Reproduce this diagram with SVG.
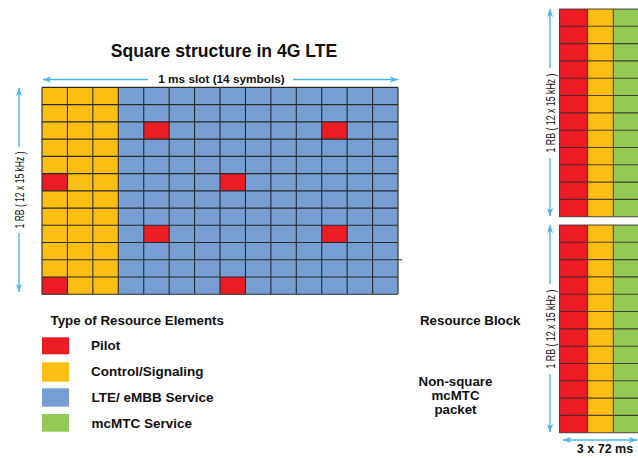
<svg xmlns="http://www.w3.org/2000/svg" width="638" height="458" viewBox="0 0 638 458">
<style>
.t{font-family:"Liberation Sans",Arial,sans-serif;font-weight:bold;fill:#111}
.rb{font-family:"Liberation Sans",Arial,sans-serif;font-size:13.5px;fill:#111}
.grid{fill:none;stroke:#2a2a2a;stroke-width:1.1}
.rgrid{fill:none;stroke:#3a2a2a;stroke-width:1.1;stroke-opacity:0.85}
.arr{stroke:#4db6e8;stroke-width:1.4;fill:none}
.red{fill:#ec1c24}.yel{fill:#fdbe13}.blu{fill:#779ed3}.grn{fill:#95c955}
</style>
<defs>
<marker id="ah" viewBox="0 0 10 8" refX="9.5" refY="4" markerWidth="9" markerHeight="7" orient="auto-start-reverse" markerUnits="userSpaceOnUse">
<path d="M0,0.5 L10,4 L0,7.5 L3,4 z" fill="#4db6e8"/>
</marker>
</defs>
<rect width="638" height="458" fill="#fff"/>

<g id="title"><text class="t" x="224" y="57" font-size="17.6" text-anchor="middle">Square structure in 4G LTE</text></g>

<g id="lte-grid">
<rect class="yel" x="42" y="87.4" width="76.3" height="206.9"/>
<rect class="blu" x="118.3" y="87.4" width="279.7" height="206.9"/>
<rect class="red" x="42" y="173.6" width="25.43" height="17.24"/>
<rect class="red" x="42" y="277.04" width="25.43" height="17.24"/>
<rect class="red" x="143.72" y="121.88" width="25.43" height="17.24"/>
<rect class="red" x="143.72" y="225.32" width="25.43" height="17.24"/>
<rect class="red" x="220.01" y="173.6" width="25.43" height="17.24"/>
<rect class="red" x="220.01" y="277.04" width="25.43" height="17.24"/>
<rect class="red" x="321.73" y="121.88" width="25.43" height="17.24"/>
<rect class="red" x="321.73" y="225.32" width="25.43" height="17.24"/>
<path class="grid" d="M42,87.4V294.3M67.43,87.4V294.3M92.86,87.4V294.3M118.29,87.4V294.3M143.72,87.4V294.3M169.15,87.4V294.3M194.58,87.4V294.3M220.01,87.4V294.3M245.44,87.4V294.3M270.87,87.4V294.3M296.3,87.4V294.3M321.73,87.4V294.3M347.16,87.4V294.3M372.59,87.4V294.3M398.02,87.4V294.3
M42,87.4H398M42,104.64H398M42,121.88H398M42,139.12H398M42,156.36H398M42,173.6H398M42,190.84H398M42,208.08H398M42,225.32H398M42,242.56H398M42,259.8H402M42,277.04H398M42,294.28H398"/>
</g>

<g id="rb-top">
<rect class="red" x="559.5" y="9" width="28" height="207.7"/>
<rect class="yel" x="587.5" y="9" width="25.8" height="207.7"/>
<rect class="grn" x="613.3" y="9" width="27" height="207.7"/>
<path class="rgrid" d="M559.5,9V216.7M587.5,9V216.7M613.3,9V216.7
M559.5,9H640M559.5,26.3H640M559.5,43.6H640M559.5,60.9H640M559.5,78.2H640M559.5,95.5H640M559.5,112.9H640M559.5,130.2H640M559.5,147.5H640M559.5,164.8H640M559.5,182.1H640M559.5,199.4H640M559.5,216.7H640"/>
</g>

<g id="rb-bottom">
<rect class="red" x="559.5" y="225" width="28" height="207.7"/>
<rect class="yel" x="587.5" y="225" width="25.8" height="207.7"/>
<rect class="grn" x="613.3" y="225" width="27" height="207.7"/>
<path class="rgrid" d="M559.5,225V432.7M587.5,225V432.7M613.3,225V432.7
M559.5,225H640M559.5,242.3H640M559.5,259.6H640M559.5,276.9H640M559.5,294.2H640M559.5,311.5H640M559.5,328.9H640M559.5,346.2H640M559.5,363.5H640M559.5,380.8H640M559.5,398.1H640M559.5,415.4H640M559.5,432.7H640"/>
</g>

<g id="connectors">
<line class="arr" x1="148" y1="79.5" x2="43" y2="79.5" marker-end="url(#ah)"/>
<line class="arr" x1="293" y1="79.5" x2="398" y2="79.5" marker-end="url(#ah)"/>
<line class="arr" x1="19" y1="147" x2="19" y2="88" marker-end="url(#ah)"/>
<line class="arr" x1="19" y1="233" x2="19" y2="292" marker-end="url(#ah)"/>
<line class="arr" x1="550" y1="68" x2="550" y2="9" marker-end="url(#ah)"/>
<line class="arr" x1="550" y1="158" x2="550" y2="216" marker-end="url(#ah)"/>
<line class="arr" x1="550" y1="284" x2="550" y2="225" marker-end="url(#ah)"/>
<line class="arr" x1="550" y1="374" x2="550" y2="432" marker-end="url(#ah)"/>
<line class="arr" x1="600" y1="440" x2="563" y2="440" marker-end="url(#ah)"/>
<line class="arr" x1="600" y1="440" x2="637" y2="440" marker-end="url(#ah)"/>
</g>

<g id="labels">
<text class="t" x="221.5" y="83" font-size="11.8" text-anchor="middle">1 ms slot (14 symbols)</text>
<text class="rb" transform="translate(24,190) rotate(-90)" text-anchor="middle" textLength="77" lengthAdjust="spacingAndGlyphs">1 RB ( 12 x 15 kHz )</text>
<text class="rb" transform="translate(555,113) rotate(-90)" text-anchor="middle" textLength="79" lengthAdjust="spacingAndGlyphs">1 RB ( 12 x 15 kHz )</text>
<text class="rb" transform="translate(555,329) rotate(-90)" text-anchor="middle" textLength="79" lengthAdjust="spacingAndGlyphs">1 RB ( 12 x 15 kHz )</text>
<text class="t" x="605" y="453" font-size="12.5" text-anchor="middle">3 x 72 ms</text>
<text class="t" x="420" y="324.5" font-size="13.3">Resource Block</text>
<text class="t" x="455.5" y="385.5" font-size="13.3" text-anchor="middle">Non-square</text>
<text class="t" x="455.5" y="399.5" font-size="13.3" text-anchor="middle">mcMTC</text>
<text class="t" x="455.5" y="413.5" font-size="13.3" text-anchor="middle">packet</text>
</g>

<g id="legend">
<text class="t" x="50.5" y="325" font-size="13.3">Type of Resource Elements</text>
<rect class="red" x="42" y="337.3" width="27" height="17"/>
<rect class="yel" x="42" y="362.3" width="27" height="19.4"/>
<rect class="blu" x="42" y="388.3" width="27" height="18.4"/>
<rect class="grn" x="42" y="414" width="27" height="17.7"/>
<text class="t" x="91" y="350" font-size="13.5">Pilot</text>
<text class="t" x="91" y="376" font-size="13.5">Control/Signaling</text>
<text class="t" x="91.5" y="402" font-size="13.5">LTE/ eMBB Service</text>
<text class="t" x="91.5" y="428" font-size="13.5">mcMTC Service</text>
</g>
</svg>
